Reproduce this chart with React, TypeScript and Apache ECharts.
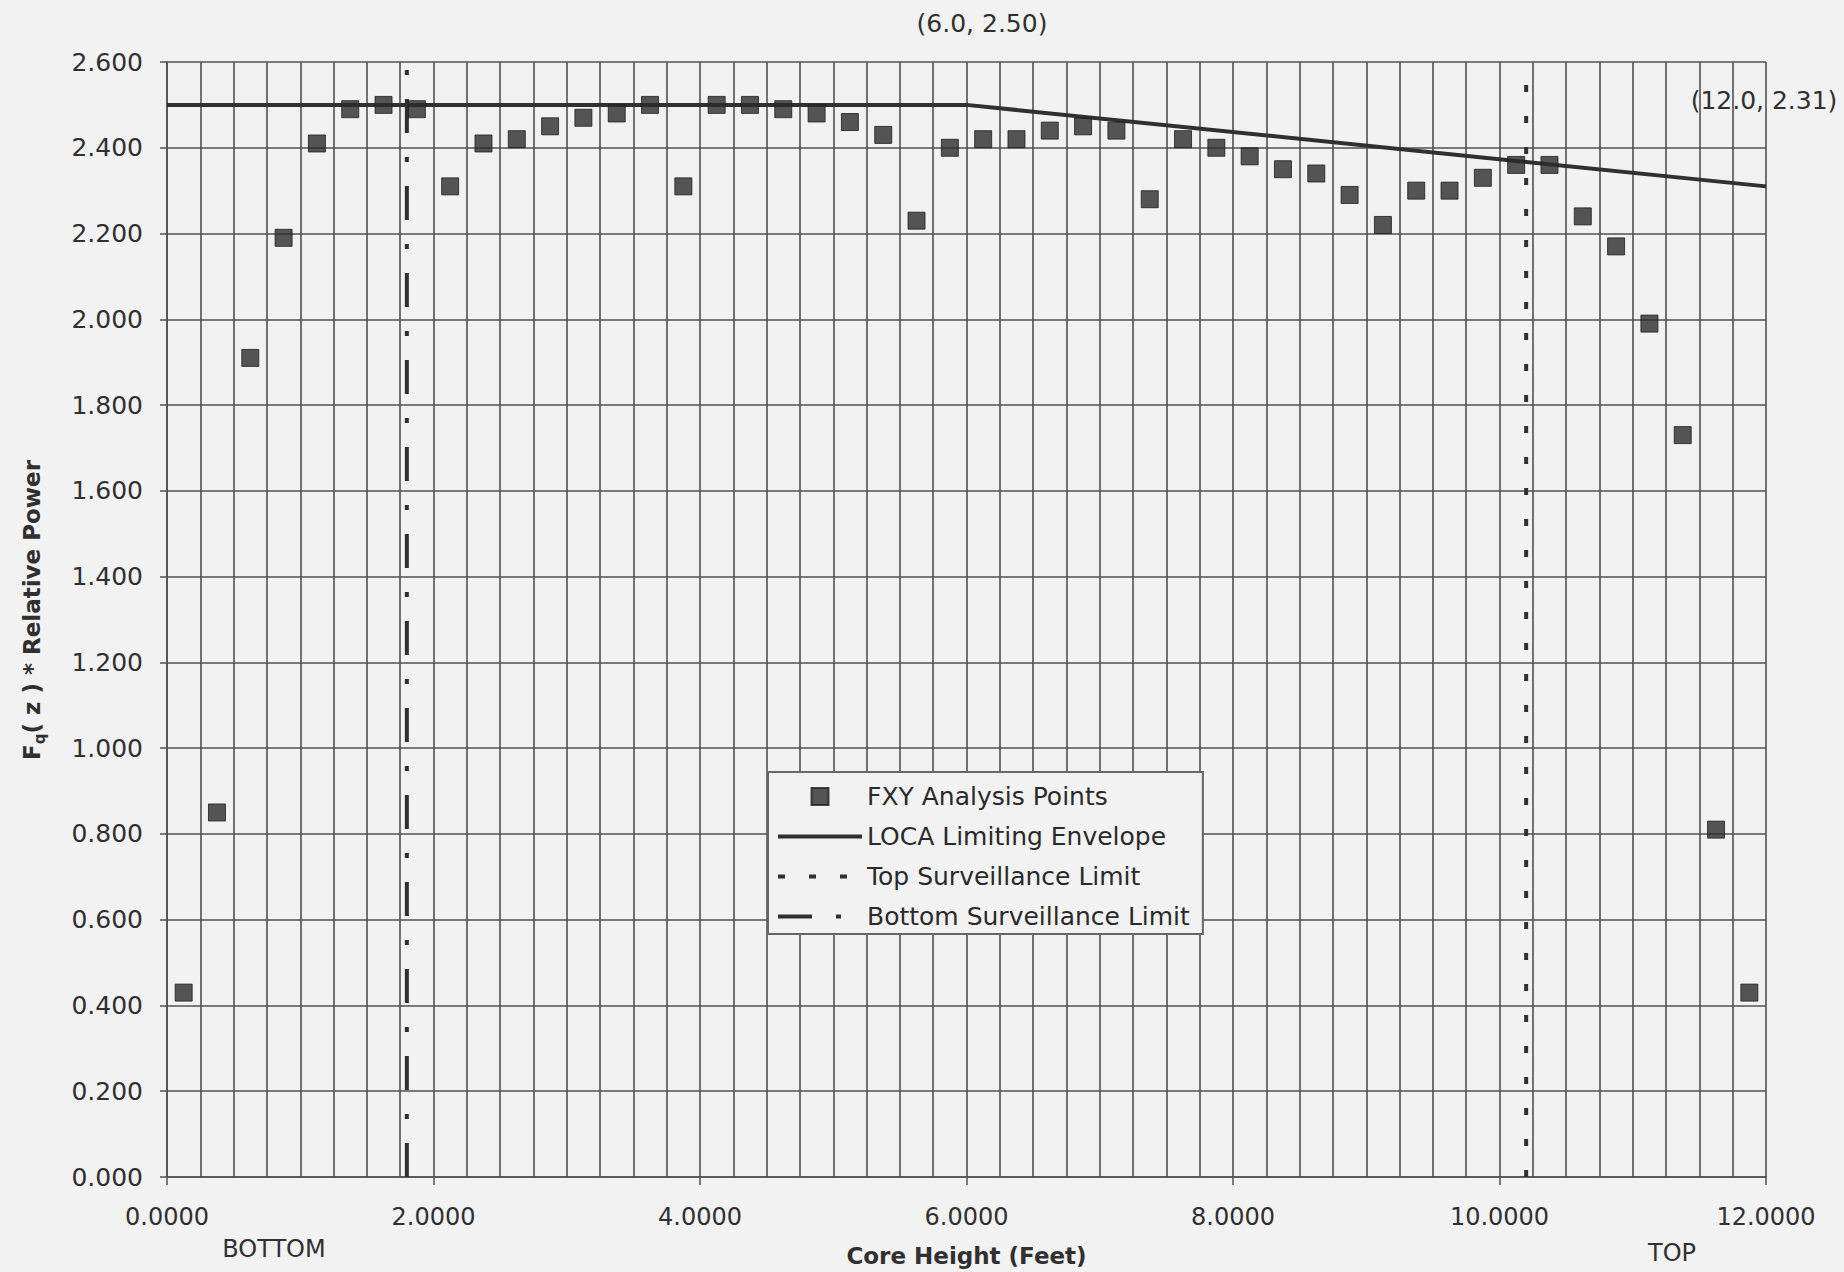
import React, { useEffect, useRef } from 'react';
import * as echarts from 'echarts';

// Core height (feet) of each axial analysis node
const coreHeights = [
  0.125, 0.375, 0.625, 0.875, 1.125, 1.375, 1.625, 1.875, 2.125, 2.375, 2.625, 2.875,
  3.125, 3.375, 3.625, 3.875, 4.125, 4.375, 4.625, 4.875, 5.125, 5.375, 5.625, 5.875,
  6.125, 6.375, 6.625, 6.875, 7.125, 7.375, 7.625, 7.875, 8.125, 8.375, 8.625, 8.875,
  9.125, 9.375, 9.625, 9.875, 10.125, 10.375, 10.625, 10.875, 11.125, 11.375, 11.625, 11.875,
];

// Fq(z) * Relative Power, FXY analysis points
const fxyValues = [
  0.43, 0.85, 1.91, 2.19, 2.41, 2.49, 2.50, 2.49, 2.31, 2.41, 2.42, 2.45,
  2.47, 2.48, 2.50, 2.31, 2.50, 2.50, 2.49, 2.48, 2.46, 2.43, 2.23, 2.40,
  2.42, 2.42, 2.44, 2.45, 2.44, 2.28, 2.42, 2.40, 2.38, 2.35, 2.34, 2.29,
  2.22, 2.30, 2.30, 2.33, 2.36, 2.36, 2.24, 2.17, 1.99, 1.73, 0.81, 0.43,
];

// LOCA limiting envelope
const envelopeHeights = [0.0, 6.0, 12.0];
const envelopeValues = [2.50, 2.50, 2.31];

// Surveillance limits (vertical lines)
const bottomLimitHeight = 1.8;
const topLimitHeight = 10.2;
const limitRange = [0.0, 2.6];

// Axes
const xMin = 0;
const xMax = 12;
const xStep = 2;
const yMin = 0;
const yMax = 2.6;
const yStep = 0.2;

const seriesNames = [
  'FXY Analysis Points',
  'LOCA Limiting Envelope',
  'Top Surveillance Limit',
  'Bottom Surveillance Limit',
];
const annotationTexts = ['(6.0, 2.50)', '(12.0, 2.31)'];
const endTexts = ['BOTTOM', 'TOP'];
const xAxisTitle = 'Core Height (Feet)';

const FONT = 'DejaVu Sans';
const INK = '#303030';
const GRID = '#505050';
const BG = '#f2f2f2';

export default function App() {
  const ref = useRef<HTMLDivElement>(null);

  useEffect(() => {
    if (!ref.current) return;
    const chart = echarts.init(ref.current, undefined, { renderer: 'svg' });

    const points = coreHeights.map((h, i) => [h, fxyValues[i]]);
    const envelope = envelopeHeights.map((h, i) => [h, envelopeValues[i]]);
    const topLimit = limitRange.map((v) => [topLimitHeight, v]);
    const bottomLimit = limitRange.map((v) => [bottomLimitHeight, v]);

    const option: any = {
      animation: false,
      backgroundColor: BG,
      textStyle: { fontFamily: FONT, color: INK },
      grid: { left: 167, top: 62, right: 78, bottom: 95, containLabel: false },
      xAxis: {
        type: 'value',
        min: xMin,
        max: xMax,
        interval: xStep,
        name: xAxisTitle,
        nameLocation: 'middle',
        nameGap: 67,
        nameTextStyle: { fontFamily: FONT, fontSize: 23, fontWeight: 'bold', color: INK },
        axisLine: { show: true, lineStyle: { color: GRID, width: 1.5 } },
        axisTick: { show: true, inside: false, length: 8, lineStyle: { color: GRID, width: 1.5 } },
        minorTick: { show: false, splitNumber: 8 },
        splitLine: { show: true, lineStyle: { color: GRID, width: 1.6 } },
        minorSplitLine: { show: true, lineStyle: { color: GRID, width: 1.6 } },
        axisLabel: {
          margin: 28,
          fontFamily: FONT,
          fontSize: 24,
          color: INK,
          formatter: (v: number) => v.toFixed(4),
        },
      },
      yAxis: {
        type: 'value',
        min: yMin,
        max: yMax,
        interval: yStep,
        axisLine: { show: true, lineStyle: { color: GRID, width: 1.5 } },
        axisTick: { show: true, inside: false, length: 7, lineStyle: { color: GRID, width: 1.5 } },
        splitLine: { show: true, lineStyle: { color: GRID, width: 1.6 } },
        axisLabel: {
          margin: 24,
          fontFamily: FONT,
          fontSize: 25,
          color: INK,
          formatter: (v: number) => v.toFixed(3),
        },
      },
      legend: {
        show: true,
        orient: 'vertical',
        left: 768,
        top: 772,
        selectedMode: false,
        itemWidth: 84,
        itemHeight: 17,
        itemGap: 15,
        padding: [12, 13, 5, 8],
        borderColor: '#666666',
        borderWidth: 2,
        backgroundColor: BG,
        textStyle: { fontFamily: FONT, fontSize: 25, color: '#2a2a2a' },
        lineStyle: { width: 4 },
        data: [
          { name: seriesNames[0] },
          { name: seriesNames[1], itemStyle: { opacity: 0 } },
          { name: seriesNames[2], itemStyle: { opacity: 0 } },
          { name: seriesNames[3], itemStyle: { opacity: 0 } },
        ],
      },
      series: [
        {
          name: seriesNames[1],
          type: 'line',
          data: envelope,
          symbol: 'none',
          lineStyle: { color: INK, width: 4 },
          itemStyle: { color: INK },
          z: 3,
        },
        {
          name: seriesNames[2],
          type: 'line',
          data: topLimit,
          symbol: 'none',
          lineStyle: { color: INK, width: 4, type: [7, 24] },
          itemStyle: { color: INK },
          z: 3,
        },
        {
          name: seriesNames[3],
          type: 'line',
          data: bottomLimit,
          symbol: 'none',
          lineStyle: { color: INK, width: 4, type: [34, 24, 5, 24] },
          itemStyle: { color: INK },
          z: 3,
        },
        {
          name: seriesNames[0],
          type: 'scatter',
          data: points,
          symbol: 'path://M0 0H10V10H0Z',
          symbolSize: 17,
          itemStyle: { color: '#2c2c2c', borderColor: '#1e1e1e', borderWidth: 1 },
          z: 4,
        },
      ],
      graphic: [
        {
          type: 'text',
          x: 982,
          y: 23,
          style: {
            text: annotationTexts[0],
            font: `25px "${FONT}"`,
            fill: INK,
            textAlign: 'center',
            textVerticalAlign: 'middle',
          },
        },
        {
          type: 'text',
          x: 1764,
          y: 100,
          style: {
            text: annotationTexts[1],
            font: `25px "${FONT}"`,
            fill: INK,
            textAlign: 'center',
            textVerticalAlign: 'middle',
          },
        },
        {
          type: 'text',
          x: 274,
          y: 1249,
          style: {
            text: endTexts[0],
            font: `24px "${FONT}"`,
            fill: INK,
            textAlign: 'center',
            textVerticalAlign: 'middle',
          },
        },
        {
          type: 'text',
          x: 1672,
          y: 1253,
          style: {
            text: endTexts[1],
            font: `24px "${FONT}"`,
            fill: INK,
            textAlign: 'center',
            textVerticalAlign: 'middle',
          },
        },
        {
          type: 'text',
          x: 32,
          y: 610,
          rotation: Math.PI / 2,
          style: {
            text: '{a|F}{b|q}{a|( z ) * Relative Power}',
            textAlign: 'center',
            textVerticalAlign: 'middle',
            fill: INK,
            rich: {
              a: { fontFamily: FONT, fontSize: 23, fontWeight: 'bold', lineHeight: 30, fill: INK },
              b: { fontFamily: FONT, fontSize: 15, fontWeight: 'bold', lineHeight: 16, verticalAlign: 'bottom', fill: INK },
            },
          },
        },
      ],
    };

    chart.setOption(option);
    return () => {
      chart.dispose();
    };
  }, []);

  return (
    <div
      ref={ref}
      style={{ position: 'fixed', left: 0, top: 0, width: 1844, height: 1272, background: BG }}
    />
  );
}
